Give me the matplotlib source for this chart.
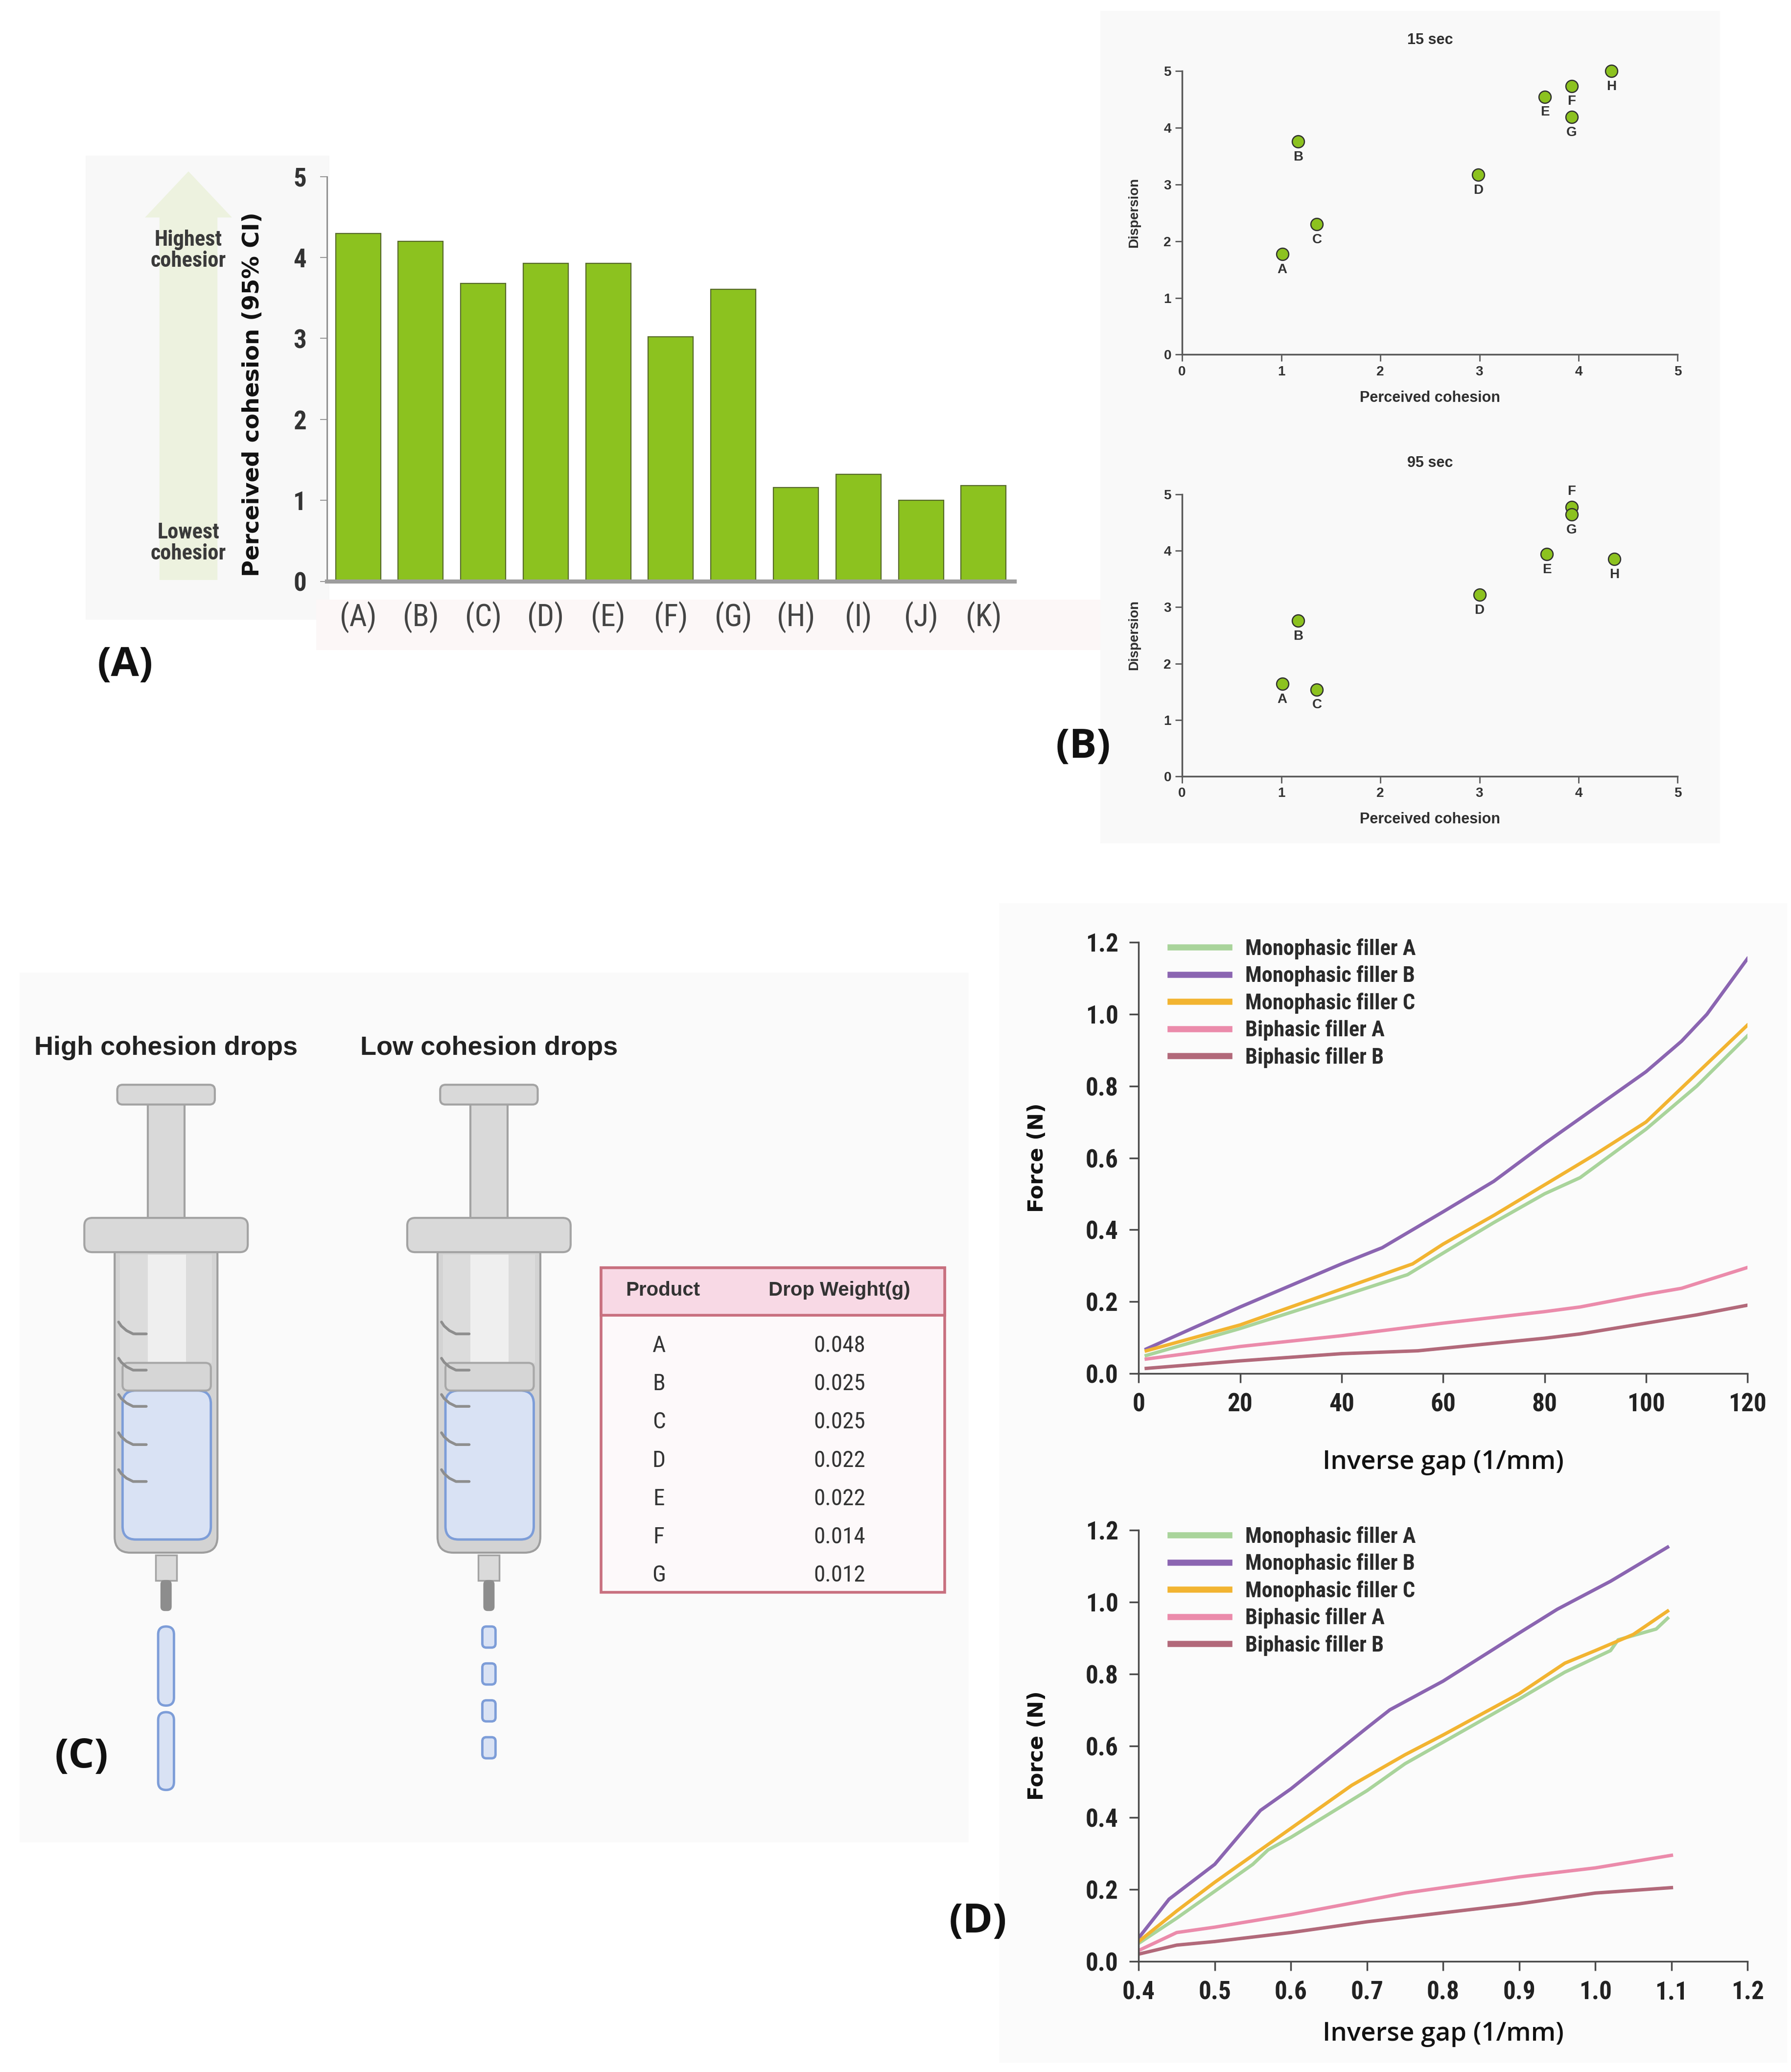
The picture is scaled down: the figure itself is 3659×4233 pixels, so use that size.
import matplotlib
matplotlib.use('Agg')
import matplotlib.pyplot as plt
from matplotlib.patches import Rectangle, FancyBboxPatch, Polygon

# ---------------- data ----------------
cat_labels = ['(A)', '(B)', '(C)', '(D)', '(E)', '(F)', '(G)', '(H)', '(I)', '(J)', '(K)']
cohesion = [4.30, 4.20, 3.68, 3.93, 3.93, 3.02, 3.61, 1.16, 1.32, 1.00, 1.18]

pt_labels = ['A', 'B', 'C', 'D', 'E', 'F', 'G', 'H']
coh_15 = [1.01, 1.17, 1.36, 2.99, 3.66, 3.93, 3.93, 4.33]
disp_15 = [1.77, 3.76, 2.30, 3.17, 4.55, 4.74, 4.19, 5.00]
coh_95 = [1.01, 1.17, 1.36, 3.00, 3.68, 3.93, 3.93, 4.36]
disp_95 = [1.64, 2.76, 1.54, 3.22, 3.94, 4.77, 4.64, 3.85]

products = ['A', 'B', 'C', 'D', 'E', 'F', 'G']
drop_weights = [0.048, 0.025, 0.025, 0.022, 0.022, 0.014, 0.012]

series_names = ['Monophasic filler A', 'Monophasic filler B', 'Monophasic filler C',
                'Biphasic filler A', 'Biphasic filler B']

# top force plot (x: inverse gap 0-120)
monoA_top_x = [1.5, 20, 40, 53, 60, 70, 80, 87, 100, 110, 120]
monoA_top_y = [0.05, 0.125, 0.215, 0.275, 0.335, 0.42, 0.50, 0.545, 0.68, 0.80, 0.94]
monoB_top_x = [1.5, 20, 40, 48, 60, 70, 80, 90, 100, 107, 112, 120]
monoB_top_y = [0.068, 0.185, 0.305, 0.35, 0.45, 0.535, 0.64, 0.74, 0.84, 0.925, 1.0, 1.155]
monoC_top_x = [1.5, 20, 40, 54, 60, 70, 80, 90, 100, 110, 120]
monoC_top_y = [0.063, 0.135, 0.235, 0.305, 0.36, 0.44, 0.525, 0.61, 0.70, 0.835, 0.97]
biA_top_x = [1.5, 20, 40, 60, 80, 87, 100, 107, 120]
biA_top_y = [0.04, 0.075, 0.105, 0.14, 0.172, 0.185, 0.22, 0.237, 0.295]
biB_top_x = [1.5, 20, 40, 55, 60, 80, 87, 100, 110, 120]
biB_top_y = [0.014, 0.035, 0.055, 0.063, 0.07, 0.098, 0.11, 0.14, 0.163, 0.19]

# bottom force plot (x: inverse gap 0.4-1.2)
monoA_bot_x = [0.40, 0.45, 0.50, 0.55, 0.57, 0.60, 0.70, 0.75, 0.80, 0.90, 0.96, 1.00, 1.02, 1.03, 1.08, 1.095]
monoA_bot_y = [0.05, 0.12, 0.195, 0.27, 0.31, 0.345, 0.475, 0.55, 0.61, 0.73, 0.805, 0.845, 0.865, 0.895, 0.925, 0.955]
monoB_bot_x = [0.40, 0.44, 0.50, 0.56, 0.60, 0.70, 0.73, 0.80, 0.90, 0.95, 1.02, 1.095]
monoB_bot_y = [0.065, 0.173, 0.27, 0.42, 0.48, 0.65, 0.70, 0.78, 0.914, 0.98, 1.058, 1.153]
monoC_bot_x = [0.40, 0.45, 0.50, 0.60, 0.68, 0.75, 0.80, 0.90, 0.96, 1.00, 1.05, 1.095]
monoC_bot_y = [0.055, 0.14, 0.22, 0.37, 0.49, 0.575, 0.63, 0.745, 0.83, 0.865, 0.91, 0.975]
biA_bot_x = [0.40, 0.45, 0.50, 0.60, 0.70, 0.75, 0.80, 0.90, 1.00, 1.10]
biA_bot_y = [0.03, 0.08, 0.095, 0.13, 0.17, 0.19, 0.205, 0.235, 0.26, 0.295]
biB_bot_x = [0.40, 0.45, 0.50, 0.60, 0.70, 0.80, 0.90, 1.00, 1.10]
biB_bot_y = [0.02, 0.045, 0.055, 0.08, 0.11, 0.135, 0.16, 0.19, 0.205]

# ---------------- style ----------------
F_NARROW = ['Roboto Condensed', 'Liberation Sans Narrow', 'Roboto', 'DejaVu Sans']
F_ARIAL = ['Liberation Sans', 'DejaVu Sans']
F_SEGOE = ['Open Sans', 'DejaVu Sans']
F_WIDE = ['DejaVu Sans']
line_colors = ['#a9d49b', '#8b65b1', '#f2b431', '#eb8bab', '#b2697a']

W, H = 1359.0, 1572.0


def frame(x0, y0, x1, y1):
    return [x0 / W, 1 - y1 / H, (x1 - x0) / W, (y1 - y0) / H]


fig = plt.figure(figsize=(36.59, 42.33), dpi=100)
fig.patch.set_facecolor('white')

bg = fig.add_axes([0, 0, 1, 1], zorder=0)
bg.set_xlim(0, W)
bg.set_ylim(H, 0)
bg.axis('off')

# faint panel backgrounds
bg.add_patch(Rectangle((65, 118), 185, 352, color='#f8f8f8', lw=0))
bg.add_patch(Rectangle((240, 455), 595, 38, color='#fcf7f7', lw=0))
bg.add_patch(Rectangle((835, 8), 470, 632, color='#f9f9f9', lw=0))
bg.add_patch(Rectangle((15, 738), 720, 660, color='#fafafa', lw=0))
bg.add_patch(Rectangle((758, 685), 598, 880, color='#fbfbfb', lw=0))

# ---------------- Panel A ----------------
bg.add_patch(Polygon([(121, 440), (121, 165), (110, 165), (143, 130), (176, 165),
                      (165, 165), (165, 440)], closed=True, color='#edf2df', lw=0))
bg.text(143, 190, 'Highest\ncohesior', ha='center', va='center', fontsize=32,
        family=F_NARROW, fontweight='bold', color='#3a3a3a', linespacing=1.05)
bg.text(143, 412, 'Lowest\ncohesior', ha='center', va='center', fontsize=32,
        family=F_NARROW, fontweight='bold', color='#3a3a3a', linespacing=1.05)
bg.text(192, 299, 'Perceived cohesion (95% CI)', rotation=90, ha='center', va='center',
        fontsize=33.5, family=F_WIDE, fontweight='bold', color='#111111')
bg.text(95, 505, '(A)', ha='center', va='center', fontsize=60, family=F_SEGOE,
        fontweight='bold', color='#111111')

axA = fig.add_axes(frame(248, 134, 770, 441), zorder=1)
axA.patch.set_alpha(0)
xs = list(range(len(cohesion)))
axA.bar(xs, cohesion, width=0.72, color='#8cc21f', edgecolor='#56692a', linewidth=1.6)
axA.set_xlim(-0.5, 10.5)
axA.set_ylim(0, 5)
axA.set_yticks([0, 1, 2, 3, 4, 5])
axA.set_xticks(xs)
axA.set_xticklabels(cat_labels, family=F_NARROW, fontsize=45, color='#444444')
for lab in axA.get_yticklabels():
    lab.set_family(F_NARROW)
    lab.set_fontweight('bold')
    lab.set_fontsize(38)
    lab.set_color('#333333')
axA.tick_params(axis='x', length=0, pad=30)
axA.tick_params(axis='y', length=10, width=1.5, color='#999999', pad=20)
for s in ['top', 'right']:
    axA.spines[s].set_visible(False)
axA.spines['left'].set_color('#8a8a8a')
axA.spines['left'].set_linewidth(2)
axA.spines['bottom'].set_color('#9d9d9d')
axA.spines['bottom'].set_linewidth(6)

# ---------------- Panel B ----------------
lab_dir_15 = [-1, -1, -1, -1, -1, -1, -1, -1]
lab_dir_95 = [-1, -1, -1, -1, -1, 1, -1, -1]


def scatter_panel(box, xs_, ys_, dirs, title):
    ax = fig.add_axes(frame(*box), zorder=1)
    ax.patch.set_alpha(0)
    ax.scatter(xs_, ys_, s=320, color='#8cc21f', edgecolor='#2f2f2f', linewidth=1.8,
               zorder=3, clip_on=False)
    for lab, x, y, d in zip(pt_labels, xs_, ys_, dirs):
        ax.annotate(lab, (x, y), xytext=(0, 23 * d), textcoords='offset points',
                    ha='center', va='center', fontsize=20, family=F_ARIAL,
                    fontweight='bold', color='#333333')
    ax.set_xlim(0, 5)
    ax.set_ylim(0, 5)
    ax.set_xticks(range(6))
    ax.set_yticks(range(6))
    for s in ['top', 'right']:
        ax.spines[s].set_visible(False)
    for s in ['left', 'bottom']:
        ax.spines[s].set_color('#5a5a5a')
        ax.spines[s].set_linewidth(2.5)
    ax.tick_params(length=10, width=2, color='#5a5a5a', labelsize=20, labelcolor='#333333', pad=6)
    for lab in ax.get_xticklabels() + ax.get_yticklabels():
        lab.set_family(F_ARIAL)
        lab.set_fontweight('bold')
    ax.set_xlabel('Perceived cohesion', fontsize=22, family=F_ARIAL, fontweight='bold',
                  color='#2f2f2f', labelpad=18)
    ax.set_ylabel('Dispersion', fontsize=20, family=F_ARIAL, fontweight='bold',
                  color='#2f2f2f', labelpad=34)
    ax.set_title(title, fontsize=22, family=F_ARIAL, fontweight='bold', color='#2f2f2f', pad=40)
    return ax


scatter_panel((897, 54, 1273, 269), coh_15, disp_15, lab_dir_15, '15 sec')
scatter_panel((897, 375, 1273, 589), coh_95, disp_95, lab_dir_95, '95 sec')
bg.text(822, 567, '(B)', ha='center', va='center', fontsize=60, family=F_SEGOE,
        fontweight='bold', color='#111111')

# ---------------- Panel C ----------------
bg.text(126, 795, 'High cohesion drops', ha='center', va='center', fontsize=39,
        family=F_ARIAL, fontweight='bold', color='#222222')
bg.text(371, 795, 'Low cohesion drops', ha='center', va='center', fontsize=39,
        family=F_ARIAL, fontweight='bold', color='#222222')

GF, GE = '#d9d9d9', '#a3a3a3'
BLUE_F, BLUE_E = '#d9e2f4', '#7d9dd8'


def rbox(x, y, w, h, r, fc, ec, lw=3, z=1):
    bg.add_patch(FancyBboxPatch((x, y), w, h, boxstyle=f'round,pad=0,rounding_size={r}',
                                fc=fc, ec=ec, lw=lw, zorder=z))


def syringe(cx):
    d = cx - 126
    rbox(87 + d, 940, 78, 238, 12, '#d3d3d3', '#9e9e9e', 3, 1)
    bg.add_patch(Rectangle((112 + d, 952), 29, 82, fc='#efefef', ec='none', zorder=2))
    bg.add_patch(Rectangle((91 + d, 952), 21, 82, fc='#dcdcdc', ec='none', zorder=2))
    bg.add_patch(Rectangle((141 + d, 952), 20, 82, fc='#dcdcdc', ec='none', zorder=2))
    rbox(93 + d, 1055, 67, 113, 10, BLUE_F, BLUE_E, 3.5, 2)
    rbox(93 + d, 1034, 67, 21, 4, '#d6d6d6', '#a8a8a8', 3, 3)
    for gy in [1012, 1039.5, 1067, 1096, 1124]:
        bg.plot([90 + d, 92 + d, 96 + d, 101 + d, 111 + d],
                [gy - 9, gy - 6, gy - 2.5, gy, gy], color='#8e8e8e',
                lw=4, solid_capstyle='round', solid_joinstyle='round', zorder=4)
    bg.add_patch(Rectangle((112 + d, 836), 28, 92, fc=GF, ec=GE, lw=3, zorder=3))
    rbox(89 + d, 823, 74, 15, 4, GF, GE, 3, 4)
    rbox(64 + d, 924, 124, 26, 6, GF, GE, 3, 4)
    bg.add_patch(Rectangle((118 + d, 1180), 16, 19, fc='#dadada', ec=GE, lw=2.5, zorder=3))
    rbox(122 + d, 1199, 8, 23, 3, '#8d8d8d', '#8d8d8d', 1, 3)


syringe(126)
syringe(371)
rbox(120, 1234, 12, 60, 6, BLUE_F, BLUE_E, 3.5, 2)
rbox(120, 1299, 12, 59, 6, BLUE_F, BLUE_E, 3.5, 2)
for yy in [1234, 1262, 1290, 1318]:
    rbox(366, yy, 10, 16, 3, BLUE_F, BLUE_E, 3.5, 2)
bg.text(62, 1333, '(C)', ha='center', va='center', fontsize=60, family=F_SEGOE,
        fontweight='bold', color='#111111')

# table
TB = '#c8707f'
bg.add_patch(Rectangle((456, 962), 261, 246, fc='#fdf9fa', ec=TB, lw=4, zorder=2))
bg.add_patch(Rectangle((456, 962), 261, 36, fc='#f8d9e5', ec=TB, lw=4, zorder=3))
bg.text(503, 979, 'Product', ha='center', va='center', fontsize=29, family=F_ARIAL,
        fontweight='bold', color='#333333', zorder=4)
bg.text(637, 979, 'Drop Weight(g)', ha='center', va='center', fontsize=29, family=F_ARIAL,
        fontweight='bold', color='#333333', zorder=4)
for i, (p, w) in enumerate(zip(products, drop_weights)):
    yy = 1021 + i * 29
    bg.text(500, yy, p, ha='center', va='center', fontsize=34, family=F_NARROW,
            color='#333333', zorder=4)
    bg.text(637, yy, f'{w:.3f}', ha='center', va='center', fontsize=34, family=F_NARROW,
            color='#333333', zorder=4)

# ---------------- Panel D ----------------
top_series = [(monoA_top_x, monoA_top_y), (monoB_top_x, monoB_top_y), (monoC_top_x, monoC_top_y),
              (biA_top_x, biA_top_y), (biB_top_x, biB_top_y)]
bot_series = [(monoA_bot_x, monoA_bot_y), (monoB_bot_x, monoB_bot_y), (monoC_bot_x, monoC_bot_y),
              (biA_bot_x, biA_bot_y), (biB_bot_x, biB_bot_y)]


def force_panel(box, series, xlim, xticks, xfmt, xlabel_pad):
    ax = fig.add_axes(frame(*box), zorder=1)
    ax.patch.set_alpha(0)
    for (x, y), c, n in zip(series, line_colors, series_names):
        ax.plot(x, y, color=c, lw=5, label=n, solid_joinstyle='round')
    ax.set_xlim(*xlim)
    ax.set_ylim(0, 1.2)
    ax.set_xticks(xticks)
    ax.set_xticklabels([xfmt.format(t) for t in xticks])
    yt = [0, 0.2, 0.4, 0.6, 0.8, 1.0, 1.2]
    ax.set_yticks(yt)
    ax.set_yticklabels([f'{t:.1f}' for t in yt])
    for s in ['top', 'right']:
        ax.spines[s].set_visible(False)
    for s in ['left', 'bottom']:
        ax.spines[s].set_color('#4a4a4a')
        ax.spines[s].set_linewidth(2.5)
    ax.tick_params(length=14, width=2.5, color='#4a4a4a', labelsize=37, labelcolor='#222222')
    ax.tick_params(axis='y', pad=16)
    ax.tick_params(axis='x', pad=14)
    for lab in ax.get_xticklabels() + ax.get_yticklabels():
        lab.set_family(F_NARROW)
        lab.set_fontweight('bold')
    ax.set_xlabel('Inverse gap (1/mm)', fontsize=38, family=F_SEGOE, fontweight='semibold',
                  color='#111111', labelpad=xlabel_pad)
    ax.set_ylabel('Force (N)', fontsize=31, family=F_WIDE, fontweight='bold', color='#111111')
    ax.yaxis.set_label_coords(-0.15, 0.5)
    leg = ax.legend(loc='upper left', bbox_to_anchor=(0.02, 1.055), frameon=False,
                    prop={'family': F_NARROW, 'weight': 'bold', 'size': 32},
                    handlelength=2.7, handletextpad=0.75, labelspacing=0.28)
    for ln in leg.get_lines():
        ln.set_linewidth(9)
    for t in leg.get_texts():
        t.set_color('#2a2a2a')
    return ax


force_panel((864, 715, 1326, 1042), top_series, (0, 120), [0, 20, 40, 60, 80, 100, 120], '{:d}', 48)
force_panel((864, 1161, 1326, 1488), bot_series, (0.4, 1.2),
            [0.4, 0.5, 0.6, 0.7, 0.8, 0.9, 1.0, 1.1, 1.2], '{:.1f}', 24)
bg.text(742, 1458, '(D)', ha='center', va='center', fontsize=60, family=F_SEGOE,
        fontweight='bold', color='#111111')

fig.savefig('out.png', dpi=100, facecolor='white')
